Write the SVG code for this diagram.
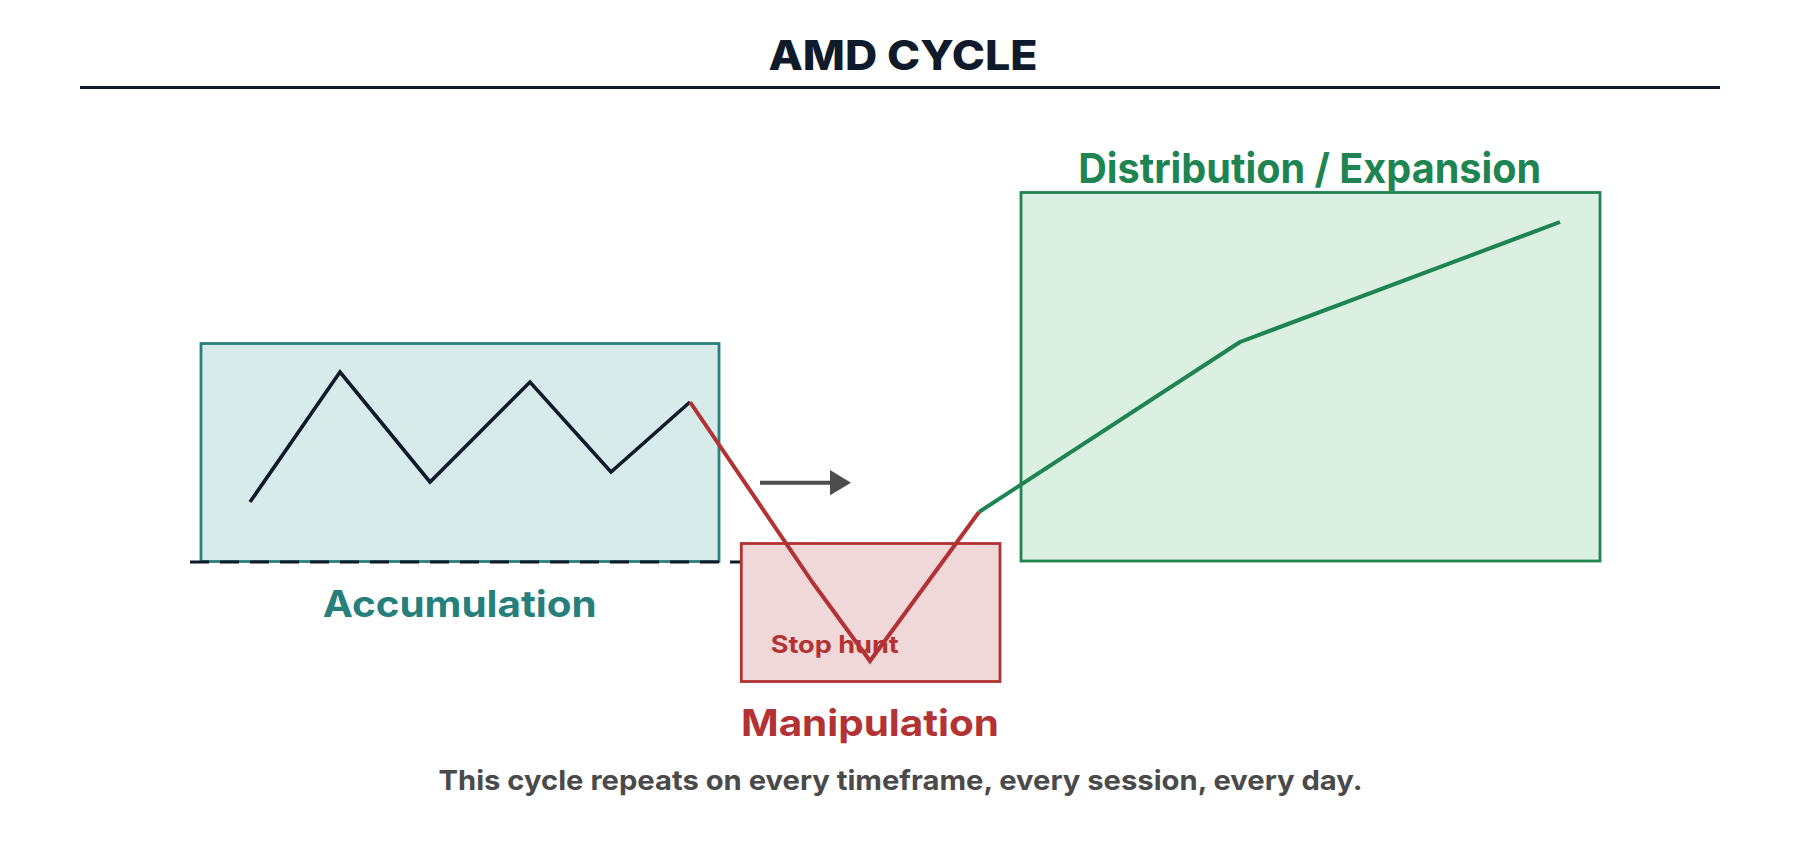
<svg xmlns="http://www.w3.org/2000/svg" width="1800" height="859" viewBox="0 0 1800 859">
  <defs>
    <style>
      .t { font-family: Inter, "Noto Sans", "Liberation Sans", sans-serif; font-weight: 700; }
      .title { fill: #0f1b2a; font-size: 41px; font-weight: 800; }
      .lbl-acc { fill: #267f7b; font-size: 37px; }
      .lbl-man { fill: #b33234; font-size: 37px; }
      .lbl-dis { fill: #1e8452; font-size: 41px; }
      .lbl-stop { fill: #b33234; font-size: 24px; }
      .foot { fill: #4a4a4a; font-size: 27.5px; }
    </style>
  </defs>
  <rect width="1800" height="859" fill="#ffffff"/>

  <g id="title">
    <text class="t title" x="903" y="70" text-anchor="middle" textLength="269" lengthAdjust="spacingAndGlyphs">AMD CYCLE</text>
    <line x1="80" y1="87.5" x2="1720" y2="87.5" stroke="#0f1b2a" stroke-width="3"/>
  </g>

  <g id="accumulation">
    <rect x="201" y="343.5" width="518" height="218" fill="#d7ebea" stroke="#2a817c" stroke-width="2.8"/>
    <polyline points="250,502 340,372 430,482 530,382 611,472 690,402" fill="none" stroke="#0f1b2a" stroke-width="3.6" stroke-linejoin="miter"/>
    <line x1="190" y1="562" x2="750" y2="562" stroke="#0f1b2a" stroke-width="3" stroke-dasharray="19 11"/>
    <text class="t lbl-acc" x="459.7" y="616.7" text-anchor="middle" textLength="274" lengthAdjust="spacingAndGlyphs">Accumulation</text>
  </g>

  <g id="manipulation">
    <rect x="741.3" y="543.5" width="258.7" height="138" fill="#f0d8d9" stroke="#b33234" stroke-width="2.8"/>
    <text class="t lbl-stop" x="770.7" y="653" textLength="128" lengthAdjust="spacingAndGlyphs">Stop hunt</text>
    <text class="t lbl-man" x="870" y="736" text-anchor="middle" textLength="258" lengthAdjust="spacingAndGlyphs">Manipulation</text>
  </g>

  <g id="distribution">
    <rect x="1021" y="192.5" width="579" height="368.5" fill="#dcf0e1" stroke="#1e8452" stroke-width="2.8"/>
    <text class="t lbl-dis" x="1309.7" y="183.3" text-anchor="middle" textLength="463" lengthAdjust="spacingAndGlyphs">Distribution / Expansion</text>
  </g>

  <g id="connectors">
    <polyline points="690,402 813,583 870,661 979,512" fill="none" stroke="#b33234" stroke-width="4" stroke-linejoin="miter"/>
    <polyline points="979,512 1240,342 1560,222" fill="none" stroke="#1e8452" stroke-width="4" stroke-linejoin="round"/>
    <line x1="760" y1="482.7" x2="832" y2="482.7" stroke="#4d4d4d" stroke-width="4"/>
    <polygon points="830,470 851,482.7 830,495.3" fill="#4d4d4d"/>
  </g>

  <g id="footer">
    <text class="t foot" x="900.5" y="790" text-anchor="middle" textLength="924" lengthAdjust="spacingAndGlyphs">This cycle repeats on every timeframe, every session, every day.</text>
  </g>
</svg>
